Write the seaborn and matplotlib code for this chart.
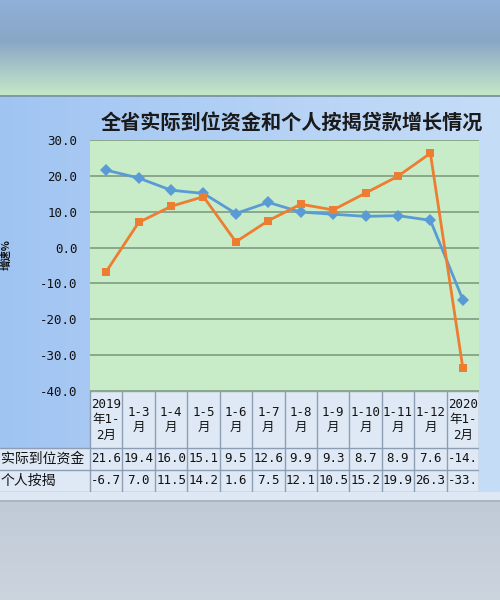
import numpy as np
import pandas as pd
import matplotlib
matplotlib.use("Agg")
import matplotlib.pyplot as plt
import seaborn as sns

# chart data
periods = ["2019\n年1-\n2月", "1-3\n月", "1-4\n月", "1-5\n月", "1-6\n月", "1-7\n月",
           "1-8\n月", "1-9\n月", "1-10\n月", "1-11\n月", "1-12\n月", "2020\n年1-\n2月"]
funds = [21.6, 19.4, 16.0, 15.1, 9.5, 12.6, 9.9, 9.3, 8.7, 8.9, 7.6, -14.5]
mortgage = [-6.7, 7.0, 11.5, 14.2, 1.6, 7.5, 12.1, 10.5, 15.2, 19.9, 26.3, -33.5]
series_names = ["实际到位资金", "个人按揭"]
yticks = [30, 20, 10, 0, -10, -20, -30, -40]
title = "全省实际到位资金和个人按揭贷款增长情况"
ylabel = "增速%"

sns.set_theme(style="white")
plt.rcParams['font.family'] = ['Noto Sans CJK SC', 'DejaVu Sans']
mono = ['DejaVu Sans Mono', 'Noto Sans CJK SC']

df = pd.DataFrame({
    "idx": list(range(len(periods))) * 2,
    "value": funds + mortgage,
    "series": [series_names[0]] * len(periods) + [series_names[1]] * len(periods),
})

W, H = 500, 600
fig = plt.figure(figsize=(5, 6), dpi=100)

# background picture: top band, blue body, grey footer
def hex2rgb(h):
    h = h.lstrip('#')
    return np.array([int(h[i:i + 2], 16) for i in (0, 2, 4)]) / 255.0

img = np.zeros((H, W, 3))
top_a, top_b, top_c = hex2rgb('#90b0d8'), hex2rgb('#88a6c6'), hex2rgb('#c6e8c8')
for y in range(0, 95):
    if y < 40:
        c = top_a + (top_b - top_a) * y / 40
    else:
        c = top_b + (top_c - top_b) * (y - 40) / 55
    img[y, :, :] = c
img[95:97, :, :] = hex2rgb('#7f9aa8')
left_c, right_c = hex2rgb('#a0c4f2'), hex2rgb('#c6ddf8')
grad = left_c[None, :] + (right_c - left_c)[None, :] * (np.arange(W)[:, None] / (W - 1))
img[97:492, :, :] = grad[None, :, :]
img[492:500, :, :] = hex2rgb('#dde8f4')
img[500:502, :, :] = hex2rgb('#a9b4c0')
foot_a, foot_b = hex2rgb('#c0cad6'), hex2rgb('#ccd5de')
for y in range(502, H):
    img[y, :, :] = foot_a + (foot_b - foot_a) * (y - 502) / (H - 502)

bg = fig.add_axes([0, 0, 1, 1])
bg.imshow(img, aspect='auto', extent=(0, W, H, 0))
bg.axis('off')

# main plot
ax = fig.add_axes([90 / W, (H - 391) / H, 389 / W, 251 / H])
ax.set_facecolor('#c8ecc8')
sns.lineplot(ax=ax, data=df, x="idx", y="value", hue="series", style="series",
             palette={series_names[0]: '#5b9bd5', series_names[1]: '#ed7d31'},
             markers={series_names[0]: 'D', series_names[1]: 's'},
             dashes=False, linewidth=2, markersize=6, markeredgewidth=0,
             legend=False)
ax.set_xlim(-0.5, len(periods) - 0.5)
ax.set_ylim(-40, 30)
ax.set_yticks(yticks)
ax.set_yticklabels([f"{v:.1f}" for v in yticks], fontsize=9, color='#111111',
                   family=mono)
ax.tick_params(axis='y', length=0, pad=9)
ax.set_xticks([])
ax.set_xlabel('')
ax.set_ylabel('')
ax.yaxis.grid(True, color='#7f9c7f', linewidth=1.2)
ax.set_axisbelow(True)
for s in ax.spines.values():
    s.set_visible(False)

# data table under the plot
px = 389 / len(periods)
tab = fig.add_axes([0, (H - 492) / H, 479 / W, 101 / H])
x_left = -0.5 - 90 / px
x_right = len(periods) - 0.5
tab.set_xlim(x_left, x_right)
tab.set_ylim(101, 0)
tab.axis('off')
cell_bg = '#dfe9f6'
line_c = '#8d9db3'
tab.add_patch(plt.Rectangle((-0.5, 0), len(periods), 57, color=cell_bg, lw=0))
tab.add_patch(plt.Rectangle((x_left, 57), x_right - x_left, 44, color=cell_bg, lw=0))
for yy in (57, 79, 100.5):
    tab.plot([x_left, x_right], [yy, yy], color=line_c, lw=1)
tab.plot([-0.5, x_right], [0, 0], color=line_c, lw=1)
for i in range(len(periods) + 1):
    tab.plot([i - 0.5, i - 0.5], [0, 101], color=line_c, lw=1)

for i, lab in enumerate(periods):
    tab.text(i, 29, lab, ha='center', va='center', fontsize=9, linespacing=1.25,
             color='#111111', family=mono)
for row, (name, vals) in enumerate(zip(series_names, [funds, mortgage])):
    yc = 68 + row * 22
    tab.text(x_left + 0.02, yc, name, ha='left', va='center', fontsize=10, color='#111111')
    for i, v in enumerate(vals):
        s = f"{v:.1f}"
        if len(s) > 4:
            s = s[:4]
        tab.text(i, yc, s, ha='center', va='center', fontsize=9, color='#111111',
                 family=mono)

fig.text(292 / W, 1 - 122 / H, title, ha='center', va='center', fontsize=14.5,
         fontweight='bold', color='#1a1a1a')
fig.text(6 / W, 1 - 255 / H, ylabel, ha='center', va='center', rotation=90,
         fontsize=7.5, fontweight='bold', color='#111111')

fig.savefig("out.png", dpi=100)
